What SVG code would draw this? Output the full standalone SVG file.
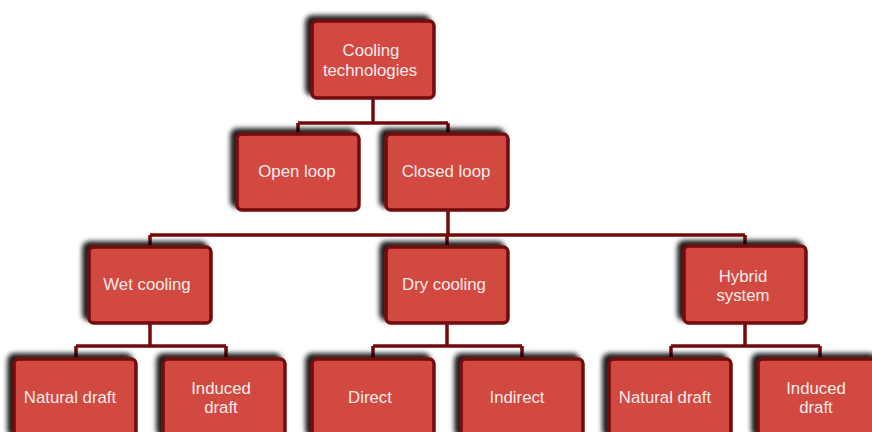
<svg xmlns="http://www.w3.org/2000/svg" width="872" height="432" viewBox="0 0 872 432">
<defs>
<filter id="sh" x="-20%" y="-20%" width="140%" height="140%">
<feDropShadow dx="-5" dy="-4" stdDeviation="2.5" flood-color="#000" flood-opacity="0.9"/>
</filter>
</defs>
<style>
.box{fill:#d14a3f;stroke:#720a0c;stroke-width:3.5;filter:url(#sh)}
.t{font-family:"Liberation Sans",Arial,sans-serif;font-size:16.8px;fill:#fbecea;text-anchor:middle}
.c{fill:none;stroke:#720a0c;stroke-width:3.5}
</style>
<rect width="872" height="432" fill="#fff"/>
<g id="connectors">
<path class="c" d="M373 98V123M298 123H448M298 123V134M448 123V134"/>
<path class="c" d="M448 210V235M150 235H745M150 235V247M447 235V247M745 235V247"/>
<path class="c" d="M150 323V346M76 346H226M76 346V359M226 346V359"/>
<path class="c" d="M447 323V346M373 346H522M373 346V359M522 346V359"/>
<path class="c" d="M745 323V346M671 346H820M671 346V359M820 346V359"/>
</g>
<g id="root"><rect class="box" x="312" y="21" width="122" height="77" rx="5"/><text class="t" x="371" y="56">Cooling</text><text class="t" x="370" y="76">technologies</text></g>
<g id="open"><rect class="box" x="237" y="134" width="122" height="76" rx="5"/><text class="t" x="297" y="177">Open loop</text></g>
<g id="closed"><rect class="box" x="386" y="134" width="122" height="76" rx="5"/><text class="t" x="446" y="177">Closed loop</text></g>
<g id="wet"><rect class="box" x="89" y="247" width="122" height="76" rx="5"/><text class="t" x="147" y="290">Wet cooling</text></g>
<g id="dry"><rect class="box" x="386" y="247" width="122" height="76" rx="5"/><text class="t" x="444" y="290">Dry cooling</text></g>
<g id="hybrid"><rect class="box" x="684" y="246" width="122" height="77" rx="5"/><text class="t" x="743" y="282">Hybrid</text><text class="t" x="743" y="301">system</text></g>
<g id="wet-natural"><rect class="box" x="14" y="359" width="122" height="80" rx="5"/><text class="t" x="70" y="403">Natural draft</text></g>
<g id="wet-induced"><rect class="box" x="163" y="359" width="122" height="80" rx="5"/><text class="t" x="221" y="394">Induced</text><text class="t" x="221" y="413">draft</text></g>
<g id="dry-direct"><rect class="box" x="312" y="359" width="122" height="80" rx="5"/><text class="t" x="370" y="403">Direct</text></g>
<g id="dry-indirect"><rect class="box" x="461" y="359" width="122" height="80" rx="5"/><text class="t" x="517" y="403">Indirect</text></g>
<g id="hyb-natural"><rect class="box" x="609" y="359" width="122" height="80" rx="5"/><text class="t" x="665" y="403">Natural draft</text></g>
<g id="hyb-induced"><rect class="box" x="758" y="359" width="122" height="80" rx="5"/><text class="t" x="816" y="394">Induced</text><text class="t" x="816" y="413">draft</text></g>
</svg>
